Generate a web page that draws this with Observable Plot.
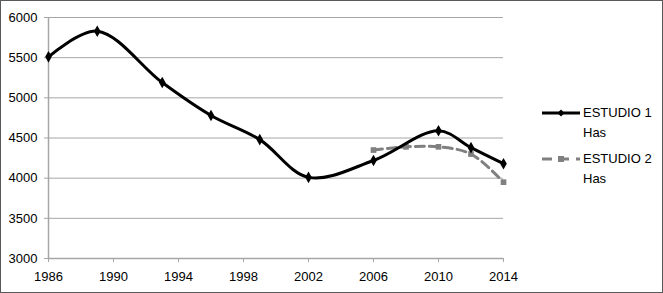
<!DOCTYPE html>
<html>
<head>
<meta charset="utf-8">
<script src="https://cdn.jsdelivr.net/npm/d3@7"></script>
<script src="https://cdn.jsdelivr.net/npm/@observablehq/plot@0.6"></script>
<style>
  html, body { margin: 0; padding: 0; background: #fff; }
  #wrap { position: relative; width: 663px; height: 293px; font-family: "Liberation Sans", "DejaVu Sans", sans-serif; }
  #frame { position: absolute; left: 0; top: 0; width: 663px; height: 293px; box-sizing: border-box; border: 1px solid #595959; pointer-events: none; }
  #legend { position: absolute; left: 541px; top: 103px; font-size: 13px; color: #000; line-height: 20px; }
  .item { position: relative; padding-left: 42px; margin-bottom: 6px; }
  .item svg { position: absolute; left: 0; top: 3px; }
</style>
</head>
<body>
<div id="wrap">
  <div id="chart"></div>
  <div id="legend"></div>
  <div id="frame"></div>
</div>
<script>
const years1 = [1986, 1989, 1993, 1996, 1999, 2002, 2006, 2010, 2012, 2014];
const estudio1 = [5510, 5830, 5190, 4780, 4480, 4010, 4220, 4590, 4380, 4180];
const years2 = [2006, 2008, 2010, 2012, 2014];
const estudio2 = [4350, 4390, 4390, 4300, 3950];
const xTicks = [1986, 1990, 1994, 1998, 2002, 2006, 2010, 2014];
const yTicks = [3000, 3500, 4000, 4500, 5000, 5500, 6000];
const seriesNames = ["ESTUDIO 1", "ESTUDIO 2"];
const seriesUnit = "Has";

const d1 = years1.map((y, i) => ({year: y, value: estudio1[i]}));
const d2 = years2.map((y, i) => ({year: y, value: estudio2[i]}));

const grey = "#a6a6a6";
const s2color = "#808080";

const chart = Plot.plot({
  width: 663,
  height: 293,
  marginLeft: 48,
  marginRight: 160,
  marginTop: 17,
  marginBottom: 35,
  style: {fontFamily: "Liberation Sans, DejaVu Sans, sans-serif", fontSize: "13px", color: "#000", background: "transparent"},
  x: {domain: [1986, 2014]},
  y: {domain: [3000, 6000]},
  marks: [
    Plot.gridY(yTicks, {stroke: grey, strokeOpacity: 1, strokeWidth: 1}),
    Plot.axisY(yTicks, {tickSize: 4, tickPadding: 7, stroke: grey, strokeOpacity: 1, tickFormat: d => String(d), label: null, fill: "#000", fontSize: 13}),
    Plot.axisX(xTicks, {tickSize: 4, tickPadding: 9, stroke: grey, strokeOpacity: 1, tickFormat: d => String(d), label: null, fill: "#000", fontSize: 13}),
    Plot.ruleX([1986], {stroke: grey, strokeWidth: 1.5}),
    Plot.ruleY([3000], {stroke: grey, strokeWidth: 1.5}),
    Plot.line(d2, {x: "year", y: "value", stroke: s2color, strokeWidth: 3, strokeDasharray: "9,5", curve: "catmull-rom"}),
    Plot.dot(d2, {x: "year", y: "value", symbol: "square", fill: s2color, r: 3.2}),
    Plot.line(d1, {x: "year", y: "value", stroke: "#000", strokeWidth: 3, curve: "catmull-rom"}),
    Plot.dot(d1, {x: "year", y: "value", symbol: "diamond", fill: "#000", r: 3.5})
  ]
});
document.getElementById("chart").appendChild(chart);

const legend = document.getElementById("legend");
const samples = [
  `<svg width="40" height="14"><line x1="1" y1="7" x2="39" y2="7" stroke="#000" stroke-width="3"/><path d="M20,3.5 L23.5,7 L20,10.5 L16.5,7 Z" fill="#000"/></svg>`,
  `<svg width="40" height="14"><line x1="1" y1="7" x2="39" y2="7" stroke="${s2color}" stroke-width="3" stroke-dasharray="10,7"/><rect x="17" y="4" width="6" height="6" fill="${s2color}"/></svg>`
];
seriesNames.forEach((name, i) => {
  const div = document.createElement("div");
  div.className = "item";
  div.innerHTML = samples[i] + `<div>${name}</div><div>${seriesUnit}</div>`;
  legend.appendChild(div);
});
</script>
</body>
</html>
